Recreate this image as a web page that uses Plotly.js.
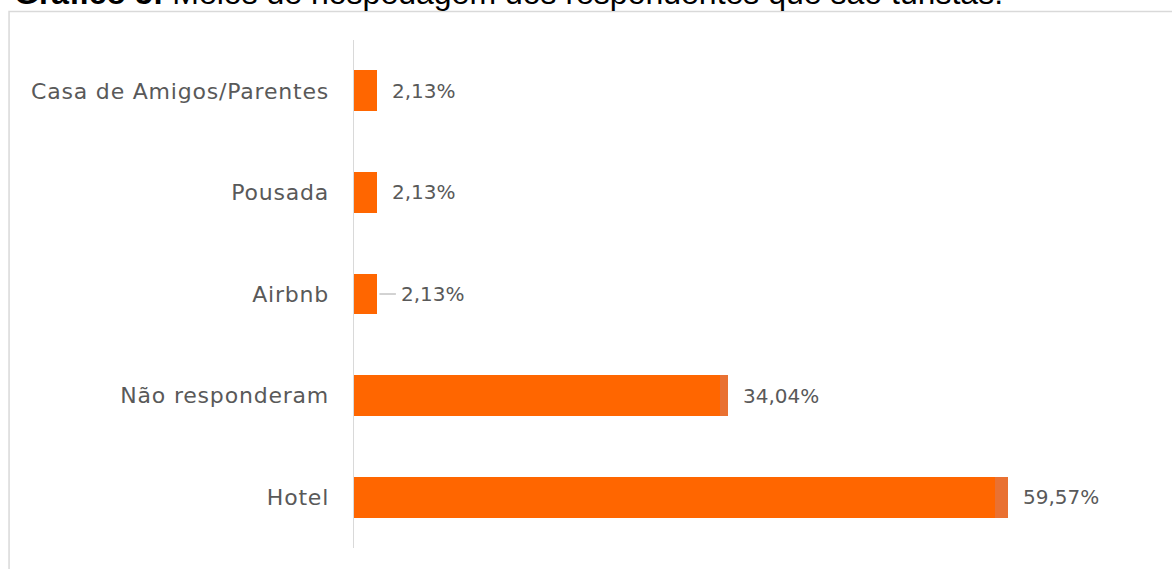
<!DOCTYPE html>
<html>
<head>
<meta charset="utf-8">
<script src="https://cdn.plot.ly/plotly-3.0.1.min.js"></script>
<style>
html,body{margin:0;padding:0;background:#fff;}
#chart{width:1172px;height:569px;}
#chart .ytick text{letter-spacing:0.8px;}
</style>
</head>
<body>
<div id="chart"></div>
<script>
// Categories, bottom to top
const categories = ['Hotel', 'Não responderam', 'Airbnb', 'Pousada', 'Casa de Amigos/Parentes'];
// Main (dark orange) segment of each bar, in %
const mainSegment = [58.33, 33.30, 2.13, 2.13, 2.13];
// Small lighter segment at the end of some bars, in %
const extraSegment = [1.24, 0.74, 0, 0, 0];
// Data labels shown at the end of each bar
const barLabels = ['59,57%', '34,04%', '2,13%', '2,13%', '2,13%'];
// Which labels use a leader line
const leaderLine = [false, false, true, false, false];

const titleText = '<b>Gráfico 5:</b> Meios de hospedagem dos respondentes que são turistas.';

const labelFont = {family: 'DejaVu Sans', size: 20, color: '#595959'};
const tickFont = {family: 'DejaVu Sans', size: 22, color: '#595959'};

const traces = [
  {type: 'bar', orientation: 'h', y: categories, x: mainSegment,
   marker: {color: '#FF6600'}, hoverinfo: 'skip'},
  {type: 'bar', orientation: 'h', y: categories, x: extraSegment,
   marker: {color: '#E97132'}, hoverinfo: 'skip'}
];

const annotations = categories.map((c, i) => {
  const total = mainSegment[i] + extraSegment[i];
  if (leaderLine[i]) {
    return {x: total, y: c, xref: 'x', yref: 'y', text: barLabels[i],
      showarrow: true, arrowhead: 0, arrowwidth: 1, arrowcolor: '#a6a6a6',
      ax: 56, ay: 0, standoff: 2, borderpad: 5, font: labelFont};
  }
  return {x: total, y: c, xref: 'x', yref: 'y', text: barLabels[i],
    showarrow: false, xanchor: 'left', xshift: 13, font: labelFont};
});

annotations.push({
  text: titleText, xref: 'paper', yref: 'paper', x: -0.421, y: 1.054,
  xanchor: 'left', yanchor: 'bottom', showarrow: false,
  font: {family: 'Liberation Sans', size: 32, color: '#000'}
});

const layout = {
  width: 1172, height: 569,
  margin: {l: 354, r: 5, t: 40, b: 21},
  barmode: 'stack', bargap: 0.6,
  showlegend: false,
  paper_bgcolor: '#fff', plot_bgcolor: '#fff',
  xaxis: {range: [0, 74], visible: false, fixedrange: true},
  yaxis: {type: 'category', range: [-0.5, 4.5], showline: true, linecolor: '#d9d9d9', linewidth: 1.5,
    showgrid: false, zeroline: false, ticks: '', ticklabelstandoff: 19,
    tickfont: tickFont, fixedrange: true},
  annotations: annotations,
  shapes: [{type: 'rect', xref: 'paper', yref: 'paper', x0: -0.4243, x1: 1.05, y0: -0.2, y1: 1.056,
    line: {color: '#d9d9d9', width: 1.5}, fillcolor: 'rgba(0,0,0,0)', layer: 'below'}]
};

Plotly.newPlot('chart', traces, layout, {displayModeBar: false, staticPlot: true});
</script>
</body>
</html>
